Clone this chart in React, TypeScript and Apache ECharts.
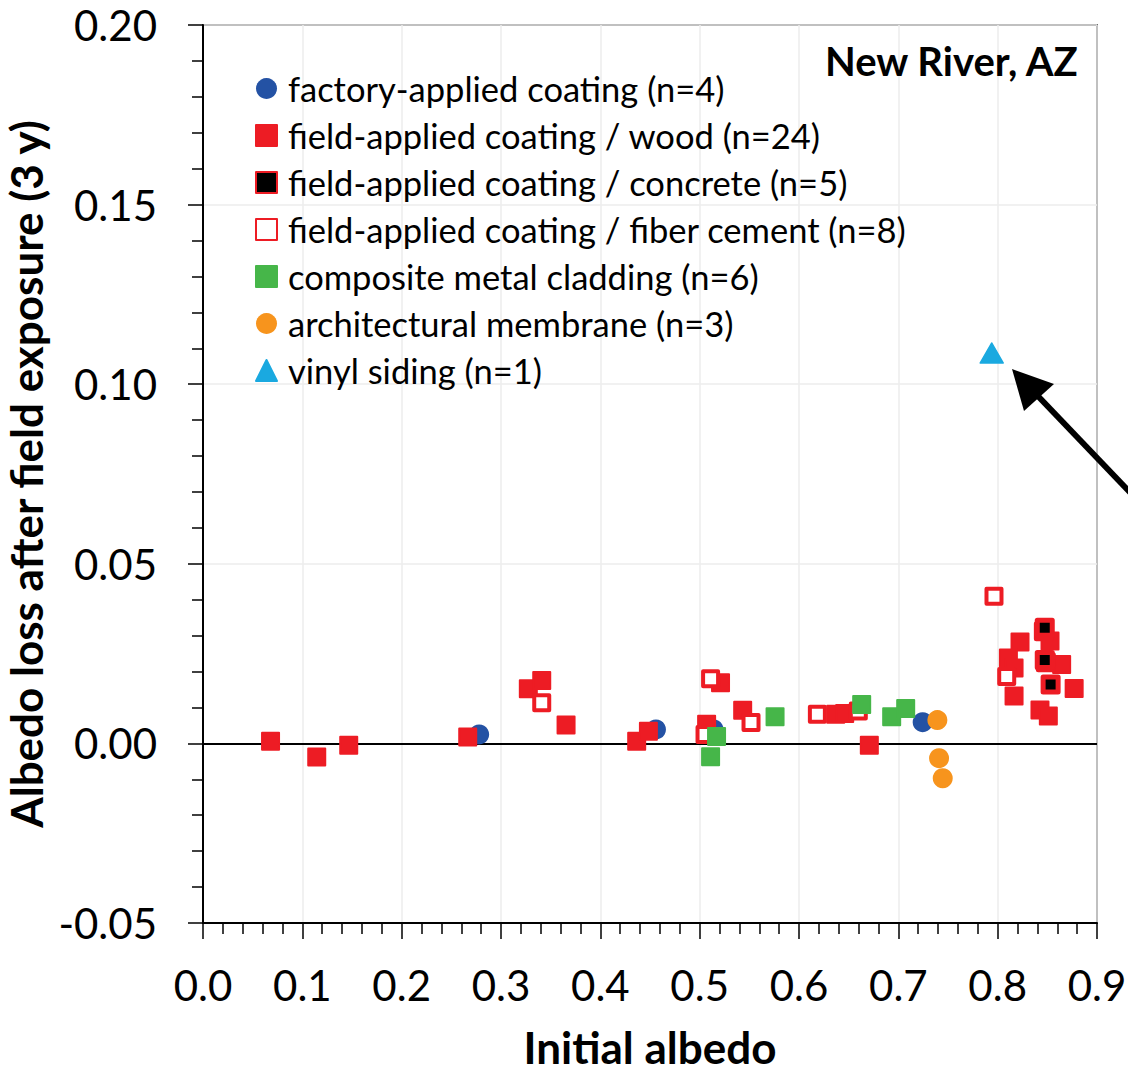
import React, { useEffect, useRef } from "react";
import * as echarts from "echarts";

// Initial albedo vs. albedo loss after 3 years of field exposure, New River, AZ
const factoryCoating: [number, number][] = [
  [0.278, 0.0025],
  [0.456, 0.0039],
  [0.514, 0.0039],
  [0.7245, 0.0059],
];

const woodCoating: [number, number][] = [
  [0.068, 0.0006],
  [0.1145, -0.0038],
  [0.1467, -0.0005],
  [0.2665, 0.0018],
  [0.3275, 0.0152],
  [0.341, 0.0175],
  [0.3655, 0.0051],
  [0.4366, 0.0006],
  [0.4484, 0.0034],
  [0.521, 0.0169],
  [0.507, 0.0053],
  [0.5433, 0.0092],
  [0.637, 0.0081],
  [0.646, 0.0083],
  [0.6708, -0.0005],
  [0.8527, 0.0285],
  [0.8225, 0.0282],
  [0.8108, 0.0238],
  [0.8644, 0.022],
  [0.8165, 0.021],
  [0.877, 0.0153],
  [0.8165, 0.0132],
  [0.8426, 0.0093],
  [0.851, 0.0076],
];

const concreteCoating: [number, number][] = [
  [0.8465, 0.0312],
  [0.8474, 0.0322],
  [0.8485, 0.0226],
  [0.8474, 0.0232],
  [0.8533, 0.0164],
];

const fiberCementCoating: [number, number][] = [
  [0.341, 0.0113],
  [0.511, 0.018],
  [0.5054, 0.0025],
  [0.5517, 0.0058],
  [0.6185, 0.0081],
  [0.6597, 0.009],
  [0.7963, 0.041],
  [0.8091, 0.0186],
];

const metalCladding: [number, number][] = [
  [0.517, 0.0019],
  [0.511, -0.0037],
  [0.5759, 0.0074],
  [0.6631, 0.0108],
  [0.6933, 0.0074],
  [0.7074, 0.0097],
];

const membrane: [number, number][] = [
  [0.7393, 0.0065],
  [0.741, -0.0041],
  [0.7447, -0.0097],
];

const vinylSiding: [number, number][] = [[0.794, 0.1087]];

const seriesNames = [
  "factory-applied coating (n=4)",
  "field-applied coating / wood (n=24)",
  "field-applied coating / concrete (n=5)",
  "field-applied coating / fiber cement (n=8)",
  "composite metal cladding (n=6)",
  "architectural membrane (n=3)",
  "vinyl siding (n=1)",
];

const xTicks = { min: 0, max: 0.9, interval: 0.1 };
const yTicks = { min: -0.05, max: 0.2, interval: 0.05 };

const FONT = "Lato";
const RED = "#ED1C24";

export default function App() {
  const ref = useRef<HTMLDivElement>(null);

  useEffect(() => {
    if (!ref.current) return;
    const chart = echarts.init(ref.current, null, { renderer: "svg" });

    const filledSquare = (color: string) => ({
      symbol: "rect",
      symbolSize: 17,
      itemStyle: { color, opacity: 1, borderColor: color, borderWidth: 2, borderJoin: "round" as const },
    });

    chart.setOption({
      animation: false,
      backgroundColor: "#ffffff",
      grid: {
        left: 203,
        top: 25,
        right: 31,
        bottom: 150,
        show: true,
        borderColor: "#000",
        borderWidth: 1.5,
        containLabel: false,
        outerBoundsMode: "none",
      },
      legend: {
        orient: "vertical",
        left: 255,
        top: 65,
        padding: 0,
        itemGap: 0,
        itemWidth: 21,
        itemHeight: 21,
        data: seriesNames,
        textStyle: {
          fontFamily: FONT,
          fontSize: 34.5,
          color: "#000",
          lineHeight: 47,
          padding: [0, 0, 0, 6],
        },
        selectedMode: false,
      },
      xAxis: {
        type: "value",
        min: xTicks.min,
        max: xTicks.max,
        interval: xTicks.interval,
        name: "Initial albedo",
        nameLocation: "middle",
        nameGap: 104,
        nameTextStyle: { fontFamily: FONT, fontSize: 44, lineHeight: 40, fontWeight: "bold", color: "#000" },
        axisLine: { onZero: false, lineStyle: { color: "#000", width: 2 } },
        axisTick: { inside: false, length: 16, lineStyle: { color: "#000", width: 1.5 } },
        minorTick: { show: true, splitNumber: 5, length: 11, lineStyle: { color: "#000", width: 1.5 } },
        axisLabel: {
          fontFamily: FONT,
          fontSize: 42,
          color: "#000",
          margin: 41,
          formatter: (v: number) => v.toFixed(1),
        },
        splitLine: { show: true, lineStyle: { color: "#ececec", width: 1.5 } },
      },
      yAxis: {
        type: "value",
        min: yTicks.min,
        max: yTicks.max,
        interval: yTicks.interval,
        name: "Albedo loss after field exposure (3 y)",
        nameLocation: "middle",
        nameGap: 145,
        nameTextStyle: { fontFamily: FONT, fontSize: 44, lineHeight: 40, fontWeight: "bold", color: "#000" },
        axisLine: { lineStyle: { color: "#000", width: 2 } },
        axisTick: { inside: false, length: 15, lineStyle: { color: "#000", width: 1.5 } },
        minorTick: { show: true, splitNumber: 5, length: 11, lineStyle: { color: "#000", width: 1.5 } },
        axisLabel: {
          fontFamily: FONT,
          fontSize: 42,
          color: "#000",
          margin: 46,
          formatter: (v: number) => v.toFixed(2),
        },
        splitLine: { show: true, lineStyle: { color: "#ececec", width: 1.5 } },
      },
      series: [
        {
          name: seriesNames[0],
          type: "scatter",
          data: factoryCoating,
          symbol: "circle",
          symbolSize: 20,
          itemStyle: { color: "#2452A4", opacity: 1 },
          markLine: {
            silent: true,
            symbol: "none",
            label: { show: false },
            lineStyle: { color: "#000", width: 2, type: "solid" },
            data: [{ yAxis: 0 }],
            z: 1,
          },
          z: 2,
        },
        { name: seriesNames[1], type: "scatter", data: woodCoating, ...filledSquare(RED), z: 3 },
        {
          name: seriesNames[2],
          type: "scatter",
          data: concreteCoating,
          symbol: "rect",
          symbolSize: 15,
          itemStyle: { color: "#000", opacity: 1, borderColor: RED, borderWidth: 5, borderJoin: "round" },
          z: 4,
        },
        {
          name: seriesNames[3],
          type: "scatter",
          data: fiberCementCoating,
          symbol: "rect",
          symbolSize: 15,
          itemStyle: { color: "#fff", opacity: 1, borderColor: RED, borderWidth: 4, borderJoin: "round" },
          z: 5,
        },
        { name: seriesNames[4], type: "scatter", data: metalCladding, ...filledSquare("#46B649"), z: 6 },
        {
          name: seriesNames[5],
          type: "scatter",
          data: membrane,
          symbol: "circle",
          symbolSize: 20,
          itemStyle: { color: "#F7941D", opacity: 1 },
          z: 7,
        },
        {
          name: seriesNames[6],
          type: "scatter",
          data: vinylSiding,
          symbol: "triangle",
          symbolSize: [23, 20],
          itemStyle: { color: "#1AA9E0", opacity: 1, borderColor: "#1AA9E0", borderWidth: 1.5, borderJoin: "round" },
          z: 8,
        },
      ],
      graphic: [
        {
          type: "text",
          right: 48,
          top: 41,
          style: {
            text: "New River, AZ",
            fontFamily: FONT,
            fontSize: 40,
            fontWeight: "bold",
            fill: "#000",
          },
          z: 10,
        },
        // arrow pointing at the vinyl siding sample
        {
          type: "line",
          shape: { x1: 1035, y1: 393, x2: 1145, y2: 508 },
          style: { stroke: "#000", lineWidth: 6 },
          z: 10,
        },
        {
          type: "polygon",
          shape: {
            points: [
              [1012, 369],
              [1054, 384],
              [1024, 411],
            ],
          },
          style: { fill: "#000" },
          z: 10,
        },
      ],
    });

    return () => chart.dispose();
  }, []);

  return (
    <div
      ref={ref}
      style={{ position: "fixed", left: 0, top: 0, width: 1128, height: 1073, background: "#fff" }}
    />
  );
}
